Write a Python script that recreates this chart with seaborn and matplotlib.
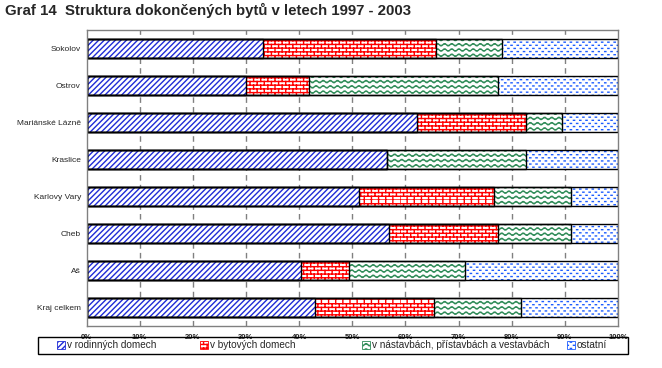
import warnings
warnings.filterwarnings("ignore")
import matplotlib
matplotlib.use("Agg")
import matplotlib.pyplot as plt
import matplotlib.hatch as mhatch
from matplotlib.path import Path
from matplotlib.patches import Patch, Rectangle
import numpy as np
import pandas as pd
import seaborn as sns

categories = ["Sokolov", "Ostrov", "Mariánské Lázně", "Kraslice",
              "Karlovy Vary", "Cheb", "Aš", "Kraj celkem"]
series_names = ["v rodinných domech", "v bytových domech",
                "v nástavbách, přístavbách a vestavbách", "ostatní"]
rodinne = [33.3, 30.1, 62.1, 56.6, 51.2, 57.0, 40.4, 43.0]
bytove = [32.4, 11.8, 20.5, 0.0, 25.4, 20.5, 8.9, 22.4]
nastavby = [12.4, 35.5, 6.9, 26.0, 14.5, 13.7, 22.0, 16.3]
ostatni = [21.9, 22.6, 10.5, 17.4, 8.9, 8.8, 28.7, 18.3]
xtick_labels = ["0%", "10%", "20%", "30%", "40%", "50%", "60%", "70%", "80%", "90%", "100%"]


# ---- custom hatch patterns (brick 'b', wave '~', pixel dots 'd') ----
class BrickHatch(mhatch.HatchPatternBase):
    def __init__(self, hatch, density):
        n = hatch.count('b')
        self.rows = 27 * n
        self.cols = 14 * n
        self.num_vertices = (self.rows * 2 + self.rows * self.cols * 2) if n else 0

    def set_vertices_and_codes(self, vertices, codes):
        h = 1.0 / self.rows
        w = 1.0 / self.cols
        k = 0
        for r in range(self.rows):
            y = r * h
            vertices[k] = (0.0, y); codes[k] = Path.MOVETO; k += 1
            vertices[k] = (1.0, y); codes[k] = Path.LINETO; k += 1
        for r in range(self.rows):
            y0 = r * h
            off = (w / 2) if r % 2 else 0.0
            for c in range(self.cols):
                x = (c * w + off) % 1.0
                vertices[k] = (x, y0); codes[k] = Path.MOVETO; k += 1
                vertices[k] = (x, y0 + h); codes[k] = Path.LINETO; k += 1


class WaveHatch(mhatch.HatchPatternBase):
    def __init__(self, hatch, density):
        n = hatch.count('~')
        self.rows = 19 * n
        self.periods = 14 * n
        self.pts = self.periods * 6 + 1
        self.num_vertices = self.rows * self.pts if n else 0

    def set_vertices_and_codes(self, vertices, codes):
        xs = np.linspace(0, 1, self.pts)
        amp = 0.012
        k = 0
        for r in range(self.rows):
            y = (r + 0.5) / self.rows
            ys = y + amp * np.sin(2 * np.pi * self.periods * xs)
            vertices[k:k + self.pts, 0] = xs
            vertices[k:k + self.pts, 1] = ys
            codes[k] = Path.MOVETO
            codes[k + 1:k + self.pts] = Path.LINETO
            k += self.pts


class DotHatch(mhatch.HatchPatternBase):
    def __init__(self, hatch, density):
        n = hatch.count('d')
        self.rows = 32 * n
        self.cols = 16 * n
        self.num_vertices = self.rows * self.cols * 2 if n else 0

    def set_vertices_and_codes(self, vertices, codes):
        h = 1.0 / self.rows
        w = 1.0 / self.cols
        k = 0
        for r in range(self.rows):
            y = (r + 0.5) * h
            off = (w / 2) if r % 2 else 0.0
            for c in range(self.cols):
                x = c * w + off + w / 4
                vertices[k] = (x, y); codes[k] = Path.MOVETO; k += 1
                vertices[k] = (x + 0.012, y); codes[k] = Path.LINETO; k += 1


mhatch._hatch_types.extend([BrickHatch, WaveHatch, DotHatch])

sns.set_theme(style="white")
plt.rcParams["font.family"] = ["Liberation Sans", "DejaVu Sans"]
plt.rcParams["hatch.linewidth"] = 1.0

fig = plt.figure(figsize=(6.62, 3.68), dpi=100)
ax = fig.add_axes([86.5 / 662, 1 - 326 / 368, (618 - 86.5) / 662, (326 - 30) / 368])

series = [rodinne, bytove, nastavby, ostatni]
cum = np.cumsum(np.array(series), axis=0)
hatches = ["//////", "b", "~", "d"]
hcolors = ["#1f2bd6", "#ff0000", "#2e8b57", "#1c5cff"]

# longest cumulative first so that shorter segments are drawn over it
for i in range(3, -1, -1):
    df = pd.DataFrame({"kraj": categories, "val": cum[i]})
    sns.barplot(data=df, x="val", y="kraj", orient="h", ax=ax, width=0.5,
                color="white", edgecolor=hcolors[i], linewidth=0,
                hatch=hatches[i], saturation=1)
for i in range(3, -1, -1):
    df = pd.DataFrame({"kraj": categories, "val": cum[i]})
    sns.barplot(data=df, x="val", y="kraj", orient="h", ax=ax, width=0.5,
                fill=False, edgecolor="black", linewidth=1.0)

ax.set_xlim(0, 100)
ax.set_ylim(len(categories) - 0.5, -0.5)
ax.set_xticks(np.arange(0, 101, 10))
ax.set_xticklabels(xtick_labels, fontsize=5.5, fontweight="bold")
ax.set_yticks(range(len(categories)))
ax.set_yticklabels(categories, fontsize=6)
ax.set_yticks(np.arange(-0.5, len(categories), 1), minor=True)
ax.tick_params(axis="y", which="major", length=0, pad=4)
ax.tick_params(axis="y", which="minor", length=4, color="#808080", width=1, direction="out")
ax.tick_params(axis="x", which="major", length=4, color="#808080", width=1, direction="out", pad=2)
ax.set_xlabel("")
ax.set_ylabel("")
for x in range(10, 100, 10):
    ax.axvline(x, color="#808080", linestyle=(0, (4, 3)), linewidth=1, zorder=0.5)
for s in ax.spines.values():
    s.set_visible(True)
    s.set_color("#808080")
    s.set_linewidth(1)
ax.grid(False)

fig.text(5 / 662, 1 - 10 / 368, "Graf 14  Struktura dokončených bytů v letech 1997 - 2003",
         fontsize=10.8, fontweight="bold", va="center", ha="left")

# legend: frame + four entries at their own positions
fig.patches.append(Rectangle((38 / 662, 1 - 354 / 368), (628 - 38) / 662, 17 / 368,
                             transform=fig.transFigure, fill=False,
                             edgecolor="black", linewidth=1))
handle_x = [57, 200, 362, 567]
ycen = 1 - 345.5 / 368
for i in range(4):
    h = Patch(facecolor="white", edgecolor=hcolors[i], hatch=hatches[i], linewidth=0)
    leg = fig.legend([h], [series_names[i]], loc="center left",
                     bbox_to_anchor=(handle_x[i] / 662, ycen), fontsize=7.2,
                     frameon=False, handlelength=0.75, handleheight=0.75,
                     handletextpad=0.25, borderpad=0, borderaxespad=0)
    for lh in leg.legend_handles:
        lh.set_linewidth(0.6)

fig.savefig("out.png", dpi=100)
